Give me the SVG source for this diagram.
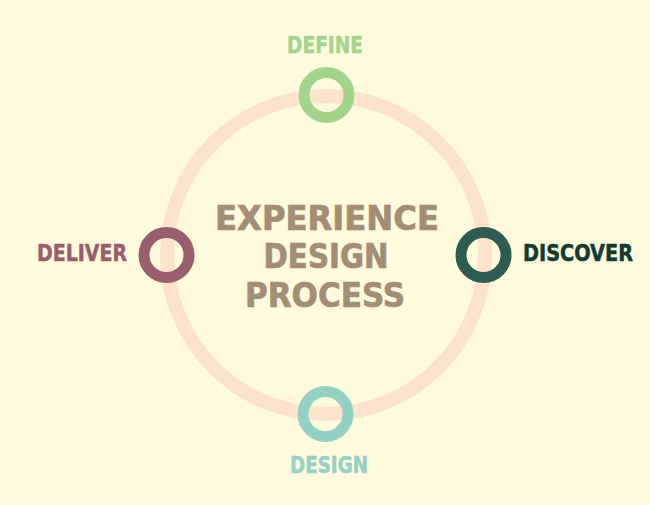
<svg xmlns="http://www.w3.org/2000/svg" width="650" height="505" viewBox="0 0 650 505">
<style>
.lbl{font-family:"DejaVu Sans Condensed","DejaVu Sans","Liberation Sans",sans-serif;font-weight:bold;font-size:23px;stroke-width:0.5}
.title{font-family:"DejaVu Sans Condensed","DejaVu Sans","Liberation Sans",sans-serif;font-weight:bold;font-size:34.5px;fill:#a38d74;stroke:#a38d74;stroke-width:0.7}
.node{fill:none;stroke-width:11}
</style>
<rect width="650" height="505" fill="#fffbdc"/>
<g id="connectors">
<circle cx="326" cy="255" r="159" fill="none" stroke="#fce3c9" stroke-width="14"/>
</g>
<g id="title">
<text class="title" x="327" y="230" text-anchor="middle" textLength="224" lengthAdjust="spacingAndGlyphs">EXPERIENCE</text>
<text class="title" x="326" y="268" text-anchor="middle" textLength="125" lengthAdjust="spacingAndGlyphs">DESIGN</text>
<text class="title" x="325" y="307" text-anchor="middle" textLength="160" lengthAdjust="spacingAndGlyphs">PROCESS</text>
</g>
<g id="define">
<circle class="node" cx="326.5" cy="95" r="22.5" stroke="#a3d48c"/>
<text class="lbl" x="325" y="53" text-anchor="middle" fill="#a3d48c" stroke="#a3d48c" textLength="76" lengthAdjust="spacingAndGlyphs">DEFINE</text>
</g>
<g id="discover">
<circle class="node" cx="483.5" cy="255" r="22.5" stroke="#2e5c52"/>
<text class="lbl" x="523" y="261" fill="#0f3b33" stroke="#0f3b33" textLength="110" lengthAdjust="spacingAndGlyphs">DISCOVER</text>
</g>
<g id="deliver">
<circle class="node" cx="166.5" cy="255" r="22.5" stroke="#9a5d6b"/>
<text class="lbl" x="37" y="261" fill="#9a5d6b" stroke="#9a5d6b" textLength="90" lengthAdjust="spacingAndGlyphs">DELIVER</text>
</g>
<g id="design">
<circle class="node" cx="325.5" cy="414" r="22.5" stroke="#94d0c4"/>
<text class="lbl" x="329" y="473" text-anchor="middle" fill="#94d0c4" stroke="#94d0c4" textLength="78" lengthAdjust="spacingAndGlyphs">DESIGN</text>
</g>
</svg>
